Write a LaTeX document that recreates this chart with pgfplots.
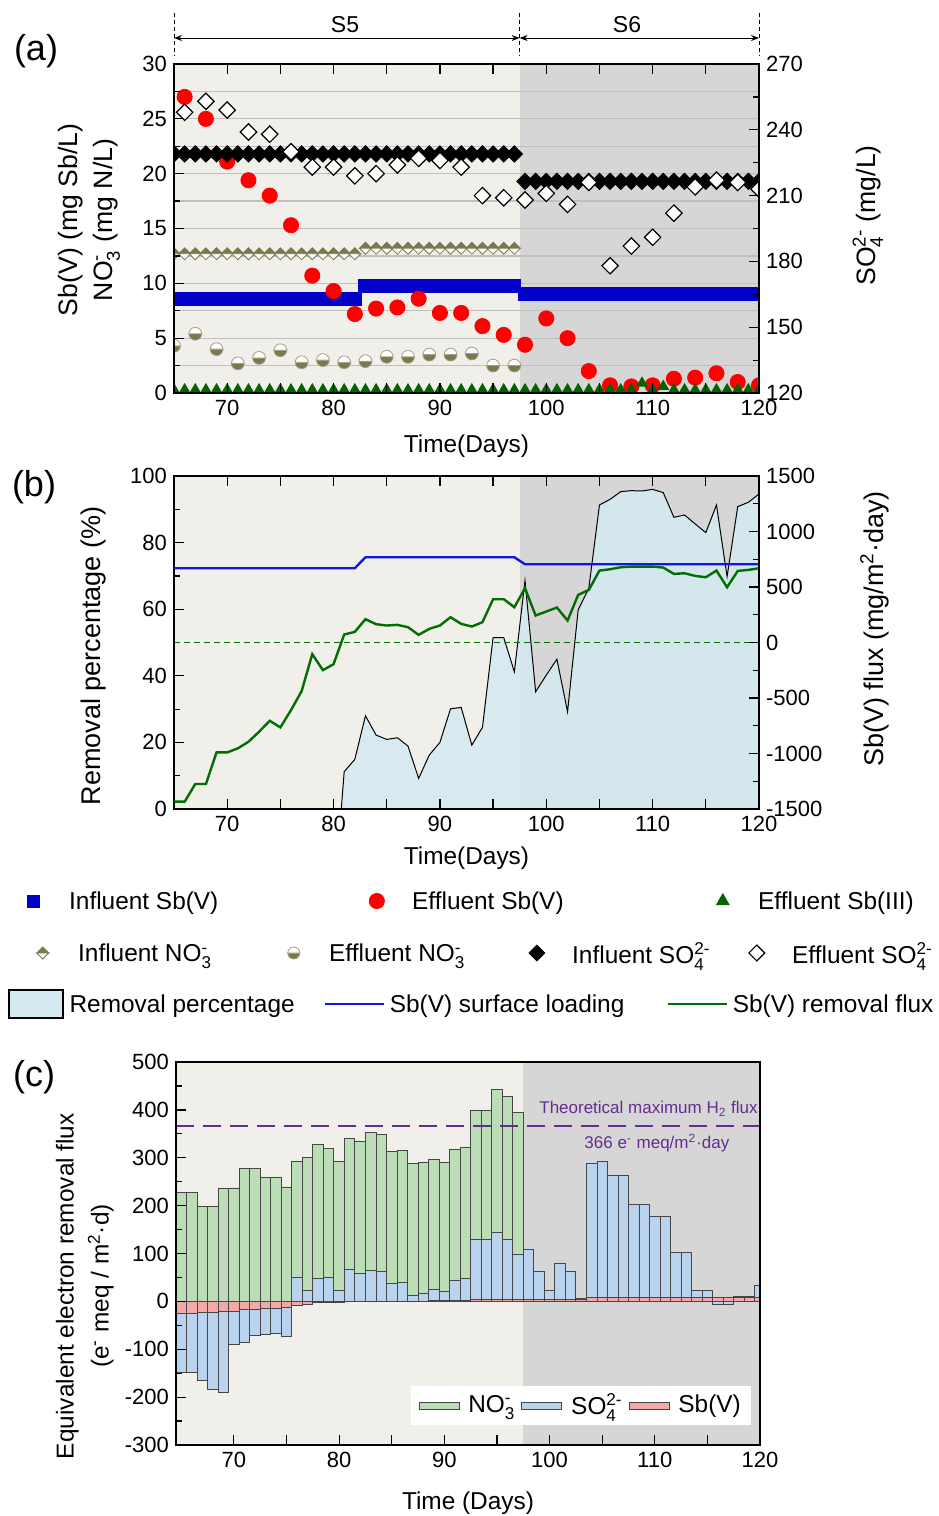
\documentclass[border=0pt]{standalone}
\usepackage{fontspec}
\setmainfont{Liberation Sans}
\usepackage{amsmath}
\usepackage{pgfplots}
\pgfplotsset{compat=1.18}
\usetikzlibrary{arrows.meta}

\definecolor{sfivebg}{RGB}{240,239,234}
\definecolor{ssixbg}{RGB}{214,214,214}
\definecolor{infsb}{RGB}{0,0,200}
\definecolor{effsb}{RGB}{255,0,0}
\definecolor{sbthree}{RGB}{0,100,0}
\definecolor{olivec}{RGB}{122,120,78}
\definecolor{loadblue}{RGB}{20,20,230}
\definecolor{fluxgreen}{RGB}{0,110,0}
\definecolor{rpfill}{RGB}{212,234,240}
\definecolor{bargreen}{RGB}{187,222,183}
\definecolor{barblue}{RGB}{185,210,238}
\definecolor{barred}{RGB}{245,168,168}
\definecolor{baredge}{RGB}{70,70,70}
\definecolor{thpurple}{RGB}{102,45,145}

\newcommand{\NOthree}{NO\ensuremath{_{\text{3}}^{\text{-}}}}
\newcommand{\SOfour}{SO\ensuremath{_{\text{4}}^{\text{2-}}}}
\newcommand{\tickfont}{\fontsize{11}{13}\selectfont}
\newcommand{\labfont}{\fontsize{12.2}{14}\selectfont}
\newcommand{\legfont}{\fontsize{12.2}{14}\selectfont}

% half-filled marks
\pgfdeclareplotmark{hdiamtop}{%
  \pgfpathmoveto{\pgfqpoint{-\pgfplotmarksize}{0pt}}%
  \pgfpathlineto{\pgfqpoint{0pt}{\pgfplotmarksize}}%
  \pgfpathlineto{\pgfqpoint{\pgfplotmarksize}{0pt}}%
  \pgfpathclose
  \pgfusepathqfillstroke
  \pgfscope
  \pgfsetfillcolor{white}%
  \pgfpathmoveto{\pgfqpoint{-\pgfplotmarksize}{0pt}}%
  \pgfpathlineto{\pgfqpoint{0pt}{-\pgfplotmarksize}}%
  \pgfpathlineto{\pgfqpoint{\pgfplotmarksize}{0pt}}%
  \pgfpathclose
  \pgfusepathqfillstroke
  \endpgfscope
}
\pgfdeclareplotmark{hcircbot}{%
  \pgfpathmoveto{\pgfqpoint{-\pgfplotmarksize}{0pt}}%
  \pgfpatharc{180}{360}{\pgfplotmarksize}%
  \pgfpathclose
  \pgfusepathqfillstroke
  \pgfscope
  \pgfsetfillcolor{white}%
  \pgfpathmoveto{\pgfqpoint{\pgfplotmarksize}{0pt}}%
  \pgfpatharc{0}{180}{\pgfplotmarksize}%
  \pgfpathclose
  \pgfusepathqfillstroke
  \endpgfscope
}

\pgfplotsset{
  base/.style={scale only axis, anchor=south west, tick align=inside, axis on top,
    clip mode=individual, clip marker paths=true,
    major tick length=5pt, minor tick length=3pt,
    tick style={black, line width=0.6pt}, axis line style={line width=0.6pt},
    tick label style={font=\tickfont}, label style={font=\labfont},
    /pgf/number format/assume math mode=true,
    /pgf/number format/1000 sep={},
    xmin=65, xmax=120,
    xtick={70,75,...,120}, xticklabels={70,,80,,90,,100,,110,,120}},
  legax/.style={hide axis, scale only axis, width=1pt, height=1pt,
    xmin=0, xmax=1, ymin=0, ymax=1, anchor=south west,
    legend style={at={(0,0)}, anchor=west, draw=none, fill=none,
      inner xsep=0pt, inner ysep=0pt,
      nodes={inner sep=0pt, font=\legfont, text depth=0pt}},
    legend cell align=left},
  mkimg/.style={legend image code/.code={\path (-9pt,0pt) (17.5pt,0pt);
    \draw[##1] plot coordinates {(0pt,0pt)};}},
  rectimg/.style={legend image code/.code={\path (0pt,0pt) (30pt,0pt);
    \draw[##1] (0pt,-7pt) rectangle (27pt,7pt);}},
  lineimg/.style={legend image code/.code={\path (0pt,0pt) (32pt,0pt);
    \draw[##1] (0pt,0pt) -- (29.5pt,0pt);}},
  barleg/.style={legend image code/.code={\path (0pt,0pt) (23.5pt,0pt);
    \draw[##1,/tikz/.cd] (0pt,-1.7pt) rectangle (20pt,1.7pt);}},
  % daily square markers of the influent Sb(V) merge into a band: drawn as a square-capped stroke
  sqband/.style={infsb, line width=7pt, line cap=rect, line join=miter},
}

\begin{document}
\begin{tikzpicture}
\useasboundingbox (0pt,0pt) rectangle (469pt,-758pt);

% ================= panel (a) =================
\begin{axis}[base, at={(87pt,-196.5pt)}, width=292.5pt, height=164.5pt,
  ymin=0, ymax=30, ytick={0,5,...,30}, minor ytick={2.5,7.5,...,27.5},
  ytick pos=left, xtick pos=both,
  xlabel={Time(Days)},
  xlabel style={at={(axis description cs:0.5,-0.161)}, anchor=center},
  ylabel={Sb(V) (mg Sb/L)\\\NOthree\ (mg N/L)},
  ylabel style={at={(axis description cs:-0.145,0.526)}, anchor=center, align=center,
    font=\fontsize{13.3}{17.5}\selectfont},
]
\fill[sfivebg] (axis cs:65,0) rectangle (axis cs:97.5,30);
\fill[ssixbg] (axis cs:97.5,0) rectangle (axis cs:120,30);
\pgfplotsinvokeforeach{2.5,5,7.5,10,12.5,15,17.5,20,22.5,25,27.5}{
  \draw[black!25, line width=0.6pt] (axis cs:65,#1) -- (axis cs:120,#1);
}
% Influent Sb(V)
\addplot[sqband] coordinates {
(65,8.55)(66,8.55)(67,8.55)(68,8.55)(69,8.55)(70,8.55)(71,8.55)(72,8.55)(73,8.55)
(74,8.55)(75,8.55)(76,8.55)(77,8.55)(78,8.55)(79,8.55)(80,8.55)(81,8.55)(82,8.55)};
\addplot[sqband] coordinates {
(83,9.8)(84,9.8)(85,9.8)(86,9.8)(87,9.8)(88,9.8)(89,9.8)(90,9.8)(91,9.8)(92,9.8)
(93,9.8)(94,9.8)(95,9.8)(96,9.8)(97,9.8)};
\addplot[sqband] coordinates {
(98,9.0)(99,9.0)(100,9.0)(101,9.0)(102,9.0)(103,9.0)(104,9.0)(105,9.0)(106,9.0)
(107,9.0)(108,9.0)(109,9.0)(110,9.0)(111,9.0)(112,9.0)(113,9.0)(114,9.0)(115,9.0)
(116,9.0)(117,9.0)(118,9.0)(119,9.0)(120,9.0)};
% Effluent Sb(V)
\addplot[only marks, mark=*, mark size=3.8pt, color=effsb] coordinates {
(66,27.0)(68,25.0)(70,21.1)(72,19.4)(74,18.0)(76,15.3)(78,10.7)(80,9.3)(82,7.2)
(84,7.7)(86,7.8)(88,8.6)(90,7.3)(92,7.3)(94,6.1)(96,5.3)(98,4.4)(100,6.8)(102,5.0)
(104,2.0)(106,0.7)(108,0.6)(110,0.7)(112,1.3)(114,1.4)(116,1.8)(118,1.0)(120,0.7)};
% Effluent Sb(III)
\addplot[only marks, mark=triangle*, mark size=3pt, color=sbthree] coordinates {
(65,0.3)(66,0.3)(67,0.3)(68,0.3)(69,0.3)(70,0.3)(71,0.3)(72,0.3)(73,0.3)
(74,0.3)(75,0.3)(76,0.3)(77,0.3)(78,0.3)(79,0.3)(80,0.3)(81,0.3)(82,0.3)
(83,0.3)(84,0.3)(85,0.3)(86,0.3)(87,0.3)(88,0.3)(89,0.3)(90,0.3)(91,0.3)
(92,0.3)(93,0.3)(94,0.3)(95,0.3)(96,0.3)(97,0.3)(98,0.3)(99,0.3)(100,0.3)
(101,0.3)(102,0.3)(103,0.3)(104,0.3)(105,0.3)(106,0.3)(107,0.3)(108,0.3)
(109,0.9)(110,0.3)(111,0.6)(112,0.3)(113,0.3)(114,0.3)(115,0.3)(116,0.3)
(117,0.3)(118,0.3)(119,0.3)(120,0.3)};
% Influent NO3
\addplot[only marks, mark=hdiamtop, mark size=3pt, mark options={draw=olivec, fill=olivec, line width=0.4pt}] coordinates {
(65,12.7)(66,12.7)(67,12.7)(68,12.7)(69,12.7)(70,12.7)(71,12.7)(72,12.7)(73,12.7)
(74,12.7)(75,12.7)(76,12.7)(77,12.7)(78,12.7)(79,12.7)(80,12.7)(81,12.7)(82,12.7)
(83,13.2)(84,13.2)(85,13.2)(86,13.2)(87,13.2)(88,13.2)(89,13.2)(90,13.2)(91,13.2)
(92,13.2)(93,13.2)(94,13.2)(95,13.2)(96,13.2)(97,13.2)};
% Effluent NO3
\addplot[only marks, mark=hcircbot, mark size=3.2pt, mark options={draw=olivec!70, fill=olivec, line width=0.4pt}] coordinates {
(65,4.3)(67,5.4)(69,4.0)(71,2.7)(73,3.2)(75,3.9)(77,2.8)(79,3.0)(81,2.8)(83,2.9)
(85,3.3)(87,3.3)(89,3.5)(91,3.5)(93,3.6)(95,2.5)(97,2.5)};
\end{axis}

\begin{axis}[base, at={(87pt,-196.5pt)}, width=292.5pt, height=164.5pt,
  ymin=120, ymax=270, ytick={120,150,...,270}, minor ytick={135,165,...,255},
  axis y line*=right, axis x line=none,
  ylabel={\SOfour\ (mg/L)},
  ylabel style={at={(axis description cs:1.186,0.54)}, anchor=center,
    font=\fontsize{13.3}{16}\selectfont},
]
% Influent SO4
\addplot[only marks, mark=square*, mark size=2.9pt, mark options={rotate=45, fill=black, draw=black}] coordinates {
(65,229)(66,229)(67,229)(68,229)(69,229)(70,229)(71,229)(72,229)(73,229)(74,229)
(75,229)(76,229)(77,229)(78,229)(79,229)(80,229)(81,229)(82,229)(83,229)(84,229)
(85,229)(86,229)(87,229)(88,229)(89,229)(90,229)(91,229)(92,229)(93,229)(94,229)
(95,229)(96,229)(97,229)
(98,216.5)(99,216.5)(100,216.5)(101,216.5)(102,216.5)(103,216.5)(104,216.5)
(105,216.5)(106,216.5)(107,216.5)(108,216.5)(109,216.5)(110,216.5)(111,216.5)
(112,216.5)(113,216.5)(114,216.5)(115,216.5)(116,216.5)(117,216.5)(118,216.5)
(119,216.5)(120,216.5)};
% Effluent SO4
\addplot[only marks, mark=square*, mark size=2.9pt, mark options={rotate=45, fill=white, draw=black, line width=0.6pt}] coordinates {
(66,248)(68,253)(70,249)(72,239)(74,238)(76,230)(78,223)(80,223)(82,219)(84,220)
(86,224)(88,227)(90,226)(92,223)(94,210)(96,209)(98,208)(100,211)(102,206)(104,216)
(106,178)(108,187)(110,191)(112,202)(114,214)(116,217)(118,216)(120,213)};
\end{axis}

% ================= panel (b) =================
\begin{axis}[base, at={(87pt,-404.5pt)}, width=292.5pt, height=166.5pt,
  ymin=0, ymax=100, ytick={0,20,...,100}, minor ytick={10,30,...,90},
  ytick pos=left, xtick pos=both,
  xlabel={Time(Days)},
  xlabel style={at={(axis description cs:0.5,-0.147)}, anchor=center},
  ylabel={Removal percentage (\%)},
  ylabel style={at={(axis description cs:-0.138,0.46)}, anchor=center,
    font=\fontsize{13.5}{16}\selectfont},
]
\fill[sfivebg] (axis cs:65,0) rectangle (axis cs:97.5,100);
\fill[ssixbg] (axis cs:97.5,0) rectangle (axis cs:120,100);
% Removal percentage
\addplot[black, line width=0.5pt, fill=rpfill, fill opacity=0.85] coordinates {
(80,-30)(81,11.2)(82,14.9)(83,28.0)(84,22.2)(85,20.9)(86,21.4)(87,18.9)(88,9.2)
(89,16.2)(90,20.0)(91,30.1)(92,30.5)(93,19.2)(94,24.5)(95,51.5)(96,51.5)(97,41.2)
(98,68.6)(99,35.2)(100,40.2)(101,45.0)(102,29.2)(103,59.8)(104,66.3)(105,91.3)
(106,93.0)(107,95.3)(108,95.6)(109,95.5)(110,96.0)(111,95.0)(112,87.6)(113,88.3)
(114,85.6)(115,83.0)(116,91.3)(117,69.8)(118,90.8)(119,92.1)(120,94.6)} \closedcycle;
\end{axis}

\begin{axis}[base, at={(87pt,-404.5pt)}, width=292.5pt, height=166.5pt,
  ymin=-1500, ymax=1500, ytick={-1500,-1000,...,1500}, minor ytick={-1250,-750,...,1250},
  axis y line*=right, axis x line=none,
  ylabel={Sb(V) flux (mg/m\ensuremath{^{\text{2}}}·day)},
  ylabel style={at={(axis description cs:1.198,0.54)}, anchor=center,
    font=\fontsize{13.5}{16}\selectfont},
]
\addplot[fluxgreen, line width=0.8pt, dash pattern=on 3pt off 2pt] coordinates {(65,0)(120,0)};
% Sb(V) surface loading
\addplot[loadblue, line width=1.2pt] coordinates {(65,669)(82,669)(83,768)(97,768)(98,705)(120,705)};
% Sb(V) removal flux
\addplot[fluxgreen, line width=1.2pt] coordinates {
(65,-1434)(66,-1434)(67,-1275)(68,-1275)(69,-990)(70,-990)(71,-954)(72,-894)
(73,-804)(74,-705)(75,-765)(76,-609)(77,-438)(78,-105)(79,-249)(80,-195)(81,72)
(82,96)(83,210)(84,165)(85,153)(86,159)(87,138)(88,69)(89,123)(90,153)(91,228)
(92,168)(93,144)(94,183)(95,390)(96,390)(97,318)(98,489)(99,243)(100,279)(101,315)
(102,198)(103,429)(104,474)(105,648)(106,660)(107,678)(108,684)(109,684)(110,684)
(111,675)(112,618)(113,624)(114,600)(115,588)(116,648)(117,498)(118,645)(119,654)
(120,669)};
\end{axis}

% ================= legend rows =================
\begin{axis}[legax, at={(7.5pt,-450.5pt)}]
\addlegendimage{mkimg, only marks, mark=square*, mark size=3pt, color=infsb}
\addlegendentry{Influent Sb(V)}
\end{axis}
\begin{axis}[legax, at={(179pt,-450.5pt)}]
\addlegendimage{mkimg, only marks, mark=*, mark size=3.8pt, color=effsb}
\addlegendentry{Effluent Sb(V)}
\end{axis}
\begin{axis}[legax, at={(352pt,-450.5pt)}]
\addlegendimage{mkimg, only marks, mark=triangle*, mark size=3.6pt, color=sbthree}
\addlegendentry{Effluent Sb(III)}
\end{axis}

\begin{axis}[legax, at={(12pt,-476.5pt)}]
\addlegendimage{mkimg, only marks, mark=hdiamtop, mark size=3pt, mark options={draw=olivec, fill=olivec, line width=0.4pt}}
\addlegendentry{Influent \NOthree}
\end{axis}
\begin{axis}[legax, at={(137.5pt,-476.5pt)}]
\addlegendimage{mkimg, only marks, mark=hcircbot, mark size=3pt, mark options={draw=olivec!70, fill=olivec, line width=0.4pt}}
\addlegendentry{Effluent \NOthree}
\end{axis}
\begin{axis}[legax, at={(259pt,-476.5pt)}]
\addlegendimage{mkimg, only marks, mark=square*, mark size=2.8pt, mark options={rotate=45, fill=black, draw=black}}
\addlegendentry{Influent \SOfour}
\end{axis}
\begin{axis}[legax, at={(369pt,-476.5pt)}]
\addlegendimage{mkimg, only marks, mark=square*, mark size=2.8pt, mark options={rotate=45, fill=white, draw=black, line width=0.6pt}}
\addlegendentry{Effluent \SOfour}
\end{axis}

\begin{axis}[legax, at={(4pt,-502pt)}]
\addlegendimage{rectimg, draw=black, line width=0.6pt, fill=rpfill}
\addlegendentry{Removal percentage}
\end{axis}
\begin{axis}[legax, at={(161.5pt,-502pt)}]
\addlegendimage{lineimg, loadblue, line width=1.2pt}
\addlegendentry{Sb(V) surface loading}
\end{axis}
\begin{axis}[legax, at={(333pt,-502pt)}]
\addlegendimage{lineimg, fluxgreen, line width=1.2pt}
\addlegendentry{Sb(V) removal flux}
\end{axis}

% ================= panel (c) =================
\begin{axis}[base, at={(88pt,-722.5pt)}, width=292pt, height=191.5pt,
  xmin=64.5, xmax=120,
  ymin=-300, ymax=500, ytick={-300,-200,...,500}, minor ytick={-250,-150,...,450},
  ytick pos=left, xtick pos=bottom,
  xlabel={Time (Days)},
  xlabel style={at={(axis description cs:0.5,-0.151)}, anchor=center},
  ylabel={Equivalent electron removal flux\\(e\ensuremath{^{\text{-}}} meq / m\ensuremath{^{\text{2}}}·d)},
  ylabel style={at={(axis description cs:-0.156,0.415)}, anchor=center, align=center,
    font=\fontsize{12.2}{17.5}\selectfont},
  legend columns=3,
  legend style={at={(0.985,0.05)}, anchor=south east, draw=none, fill=white,
    font=\legfont, inner xsep=4pt, inner ysep=3pt, nodes={inner sep=1pt},
    /tikz/every even column/.append style={column sep=2pt}},
]
\fill[sfivebg] (axis cs:64.5,-300) rectangle (axis cs:97.5,500);
\fill[ssixbg] (axis cs:97.5,-300) rectangle (axis cs:120,500);
% NO3 (top of stack)
\addplot[ybar, bar width=1, bar shift=0, fill=bargreen, draw=baredge, line width=0.4pt, barleg] coordinates {
(65,228)(66,228)(67,199)(68,199)(69,237)(70,237)(71,277)(72,277)(73,260)(74,260)
(75,239)(76,293)(77,300)(78,327)(79,319)(80,292)(81,341)(82,334)(83,352)(84,348)
(85,313)(86,315)(87,289)(88,291)(89,296)(90,291)(91,317)(92,322)(93,398)(94,399)
(95,443)(96,428)(97,395)};
\addlegendentry{\NOthree}
% SO4 (cumulative with Sb(V))
\addplot[ybar, bar width=1, bar shift=0, fill=barblue, draw=baredge, line width=0.4pt, barleg] coordinates {
(65,-148)(66,-148)(67,-164)(68,-184)(69,-191)(70,-90)(71,-85)(72,-71)(73,-69)
(74,-66)(75,-74)(76,51)(77,24)(78,49)(79,51)(80,24)(81,66)(82,59)(83,65)(84,63)
(85,37)(86,39)(87,13)(88,16)(89,26)(90,21)(91,44)(92,49)(93,129)(94,129)(95,145)
(96,129)(97,98)(98,108)(99,63)(100,23)(101,80)(102,63)(103,7)(104,289)(105,292)
(106,263)(107,263)(108,203)(109,203)(110,178)(111,178)(112,103)(113,103)(114,23)
(115,23)(116,-6)(117,-6)(118,10)(119,10)(120,33)};
\addlegendentry{\SOfour}
% Sb(V)
\addplot[ybar, bar width=1, bar shift=0, fill=barred, draw=baredge, line width=0.4pt, barleg] coordinates {
(65,-25)(66,-25)(67,-24)(68,-24)(69,-20)(70,-20)(71,-17)(72,-17)(73,-15)(74,-15)
(75,-12)(76,-8)(77,-6)(78,-3)(79,-3)(80,-3)(81,1)(82,1)(83,1)(84,1)(85,1)(86,1)
(87,1)(88,1)(89,2)(90,2)(91,2)(92,2)(93,4)(94,4)(95,5)(96,5)(97,5)(98,5)(99,5)
(100,5)(101,5)(102,5)(103,5)(104,8)(105,8)(106,8)(107,8)(108,8)(109,8)(110,8)
(111,8)(112,8)(113,8)(114,8)(115,8)(116,8)(117,8)(118,8)(119,8)(120,8)};
\addlegendentry{Sb(V)}
\addplot[thpurple, line width=1pt, dash pattern=on 9pt off 4.5pt, forget plot] coordinates {(64.5,366)(120,366)};
\node[anchor=east, text=thpurple, font=\fontsize{8.5}{10}\selectfont] at (axis cs:120.45,402) {Theoretical maximum H\ensuremath{_{\text{2}}} flux};
\node[text=thpurple, font=\fontsize{8.5}{10}\selectfont] at (axis cs:110.2,331) {366 e\ensuremath{^{\text{-}}} meq/m\ensuremath{^{\text{2}}}·day};
\end{axis}

% ================= stage annotation and panel letters =================
\draw[dash pattern=on 2pt off 1.5pt, line width=0.5pt] (87pt,-6.5pt) -- (87pt,-28pt);
\draw[dash pattern=on 2pt off 1.5pt, line width=0.5pt] (259.8pt,-6.5pt) -- (259.8pt,-28pt);
\draw[dash pattern=on 2pt off 1.5pt, line width=0.5pt] (379.5pt,-6.5pt) -- (379.5pt,-28pt);
\draw[{Stealth[length=4pt,width=3pt]}-{Stealth[length=4pt,width=3pt]}, line width=0.5pt] (87pt,-19pt) -- (259.8pt,-19pt);
\draw[{Stealth[length=4pt,width=3pt]}-{Stealth[length=4pt,width=3pt]}, line width=0.5pt] (259.8pt,-19pt) -- (379.5pt,-19pt);
\node[font=\fontsize{11.5}{13}\selectfont] at (172.5pt,-12.5pt) {S5};
\node[font=\fontsize{11.5}{13}\selectfont] at (313.5pt,-12.5pt) {S6};
\node[font=\fontsize{18}{20}\selectfont] at (18pt,-25.5pt) {(a)};
\node[font=\fontsize{18}{20}\selectfont] at (17pt,-243.5pt) {(b)};
\node[font=\fontsize{18}{20}\selectfont] at (17pt,-538.5pt) {(c)};
\end{tikzpicture}
\end{document}
